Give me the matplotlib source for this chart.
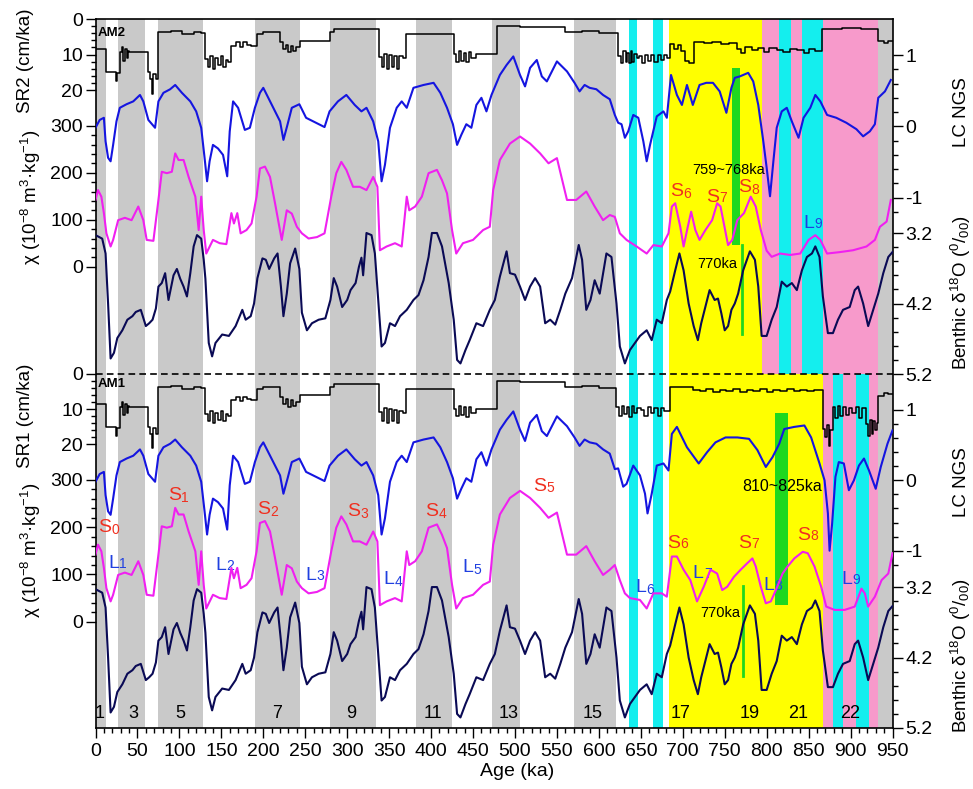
import matplotlib
matplotlib.use('Agg')
import matplotlib.pyplot as plt
import numpy as np

plt.rcParams['font.family'] = ['Liberation Sans', 'DejaVu Sans']
plt.rcParams['mathtext.fontset'] = 'custom'
plt.rcParams['mathtext.rm'] = 'Liberation Sans'
plt.rcParams['mathtext.it'] = 'Liberation Sans:italic'
plt.rcParams['axes.unicode_minus'] = False

# ---------------- data ----------------

# benthic d18O stack, same in both panels
benthic_age = [0, 8, 12, 15, 18, 22, 26, 32, 38, 44, 48, 54, 60, 64, 68, 72, 75, 79, 83, 87,
               93, 97, 101, 105, 109, 113, 117, 121, 126, 129, 131, 135, 139, 143, 151, 159, 167, 175, 179, 185,
               189, 193, 199, 203, 207, 213, 217, 221, 224, 228, 232, 238, 243, 246, 252, 258, 266, 274, 280, 284,
               288, 294, 300, 304, 310, 314, 317, 319, 323, 329, 333, 337, 341, 345, 351, 357, 363, 371, 379, 385,
               391, 397, 401, 407, 413, 421, 427, 431, 435, 441, 446, 454, 462, 470, 476, 482, 490, 494, 500, 506,
               512, 518, 524, 530, 536, 542, 548, 554, 560, 568, 576, 580, 585, 590, 595, 601, 609, 615, 621, 625,
               631, 637, 643, 649, 657, 663, 669, 675, 681, 685, 691, 696, 701, 707, 713, 718, 722, 728, 732, 738,
               742, 746, 750, 754, 758, 762, 766, 772, 780, 786, 790, 794, 800, 806, 812, 818, 824, 830, 836, 842,
               848, 854, 858, 863, 867, 873, 879, 885, 891, 899, 905, 909, 915, 921, 927, 933, 939, 945, 950]
benthic = [3.23, 3.28, 3.49, 4.20, 4.98, 4.90, 4.69, 4.58, 4.43, 4.38, 4.32, 4.29, 4.52, 4.48, 4.43, 4.27, 3.96, 3.91, 3.77, 4.15,
           3.80, 3.71, 3.85, 3.96, 4.10, 3.77, 3.39, 3.23, 3.28, 3.58, 3.85, 4.76, 4.95, 4.76, 4.64, 4.66, 4.52, 4.29, 4.43, 4.38,
           4.20, 3.84, 3.56, 3.58, 3.71, 3.56, 3.49, 3.96, 4.38, 4.06, 3.63, 3.42, 3.71, 4.33, 4.58, 4.48, 4.43, 4.41, 4.15, 3.84,
           3.96, 4.25, 4.15, 4.01, 3.91, 3.68, 3.55, 3.80, 3.20, 3.23, 3.49, 4.15, 4.81, 4.76, 4.48, 4.52, 4.38, 4.29, 4.15, 4.08,
           3.87, 3.54, 3.20, 3.20, 3.39, 3.91, 4.43, 5.00, 5.05, 4.86, 4.72, 4.48, 4.52, 4.29, 4.15, 3.82, 3.46, 3.77, 3.79, 3.96,
           4.15, 3.96, 3.84, 3.96, 4.48, 4.43, 4.50, 4.29, 4.06, 3.84, 3.37, 3.58, 4.29, 4.15, 3.87, 4.06, 3.49, 3.54, 4.20, 4.81,
           5.05, 4.86, 4.76, 4.66, 4.58, 4.72, 4.43, 4.48, 4.15, 4.03, 3.73, 3.49, 3.73, 4.20, 4.52, 4.72, 4.48, 4.20, 4.01, 4.15,
           4.13, 4.34, 4.58, 4.52, 4.29, 4.20, 4.06, 3.73, 3.46, 3.58, 3.96, 4.66, 4.66, 4.43, 4.25, 3.89, 3.96, 3.91, 4.01, 3.73,
           3.54, 3.49, 3.39, 3.54, 4.10, 4.62, 4.62, 4.43, 4.29, 4.25, 4.01, 3.96, 4.20, 4.52, 4.29, 4.06, 3.77, 3.54, 3.47]

# LC NGS, common part (0-613 ka) and the two time-scale tails
lc_age = [0, 5, 10, 12, 15, 18, 21, 25, 29, 37, 45, 53, 57, 63, 71, 75, 81, 89, 95, 103,
          113, 120, 126, 130, 133, 136, 140, 146, 152, 157, 160, 164, 170, 178, 184, 190, 196, 200, 206, 214,
          220, 224, 229, 234, 243, 251, 263, 273, 279, 289, 299, 309, 317, 323, 331, 337, 341, 345, 351, 359,
          365, 371, 379, 391, 403, 411, 419, 426, 431, 436, 442, 448, 454, 460, 466, 472, 482, 490, 498, 506,
          512, 518, 526, 532, 538, 550, 562, 571, 577, 583, 589, 597, 605, 613]
lc = [-0.02, 0.09, 0.12, -0.21, -0.44, -0.49, -0.26, 0.07, 0.26, 0.31, 0.35, 0.44, 0.35, 0.09, -0.02, 0.35, 0.47, 0.52, 0.58, 0.47,
      0.35, 0.21, -0.02, -0.44, -0.77, -0.49, -0.26, -0.31, -0.40, -0.70, -0.07, 0.35, 0.26, -0.05, -0.02, 0.26, 0.47, 0.54, 0.40, 0.21,
      0.07, -0.19, 0.03, 0.26, 0.31, 0.12, 0.05, -0.01, 0.21, 0.35, 0.44, 0.30, 0.21, 0.26, 0.07, -0.21, -0.77, -0.54, -0.02, 0.26,
      0.35, 0.26, 0.54, 0.58, 0.61, 0.47, 0.26, 0.03, -0.26, -0.12, 0.03, -0.02, 0.30, 0.40, 0.21, 0.44, 0.72, 0.86, 0.98, 0.72,
      0.56, 0.82, 0.93, 0.70, 0.63, 0.91, 0.77, 0.61, 0.49, 0.58, 0.54, 0.52, 0.44, 0.38]
lc2_tail_age = [619, 623, 627, 631, 635, 641, 647, 653, 657, 661, 669, 677, 681, 686, 693, 699, 705, 712, 720, 728,
                736, 744, 752, 758, 762, 768, 778, 784, 790, 796, 800, 804, 808, 812, 818, 824, 830, 838, 844, 852,
                858, 864, 872, 883, 895, 907, 915, 923, 929, 933, 941, 948]
lc2_tail = [0.16, 0.05, 0.03, -0.16, -0.07, 0.16, 0.12, -0.21, -0.49, -0.26, 0.14, 0.21, 0.12, 0.72, 0.44, 0.30, 0.58, 0.30, 0.58, 0.61,
            0.61, 0.49, 0.19, 0.54, 0.68, 0.70, 0.75, 0.63, 0.30, -0.21, -0.58, -0.98, -0.49, -0.02, 0.21, 0.26, 0.07, -0.16, 0.12, 0.26,
            0.44, 0.35, 0.16, 0.12, 0.05, -0.04, -0.14, -0.07, 0.03, 0.40, 0.49, 0.65]
lc1_tail_age = [619, 623, 629, 633, 641, 649, 655, 658, 663, 669, 677, 683, 687, 693, 705, 719, 729, 739, 751, 765,
                779, 789, 799, 807, 815, 821, 833, 845, 853, 863, 869, 873, 875, 878, 882, 886, 892, 898, 904, 910,
                916, 922, 930, 936, 944, 950]
lc1_tail = [0.16, 0.17, -0.09, -0.05, 0.21, 0.07, -0.19, -0.47, -0.19, 0.21, 0.24, 0.14, 0.66, 0.76, 0.47, 0.24, 0.40, 0.54, 0.61, 0.61,
            0.59, 0.43, 0.19, 0.33, 0.52, 0.73, 0.76, 0.78, 0.61, 0.24, 0.0, -0.47, -1.0, -0.62, 0.05, 0.26, 0.24, -0.14, 0.0, 0.21,
            0.31, 0.14, -0.12, 0.19, 0.52, 0.71]

# magnetic susceptibility chi (10^-8 m3/kg)
chi_age = [0, 3, 7, 10, 13, 18, 21, 27, 35, 43, 51, 57, 61, 69, 75, 79, 85, 91, 95, 99,
           105, 111, 119, 123, 126, 129, 132, 140, 148, 156, 162, 165, 169, 173, 180, 186, 192, 196, 202, 208,
           214, 222, 228, 234, 240, 246, 254, 264, 273, 281, 287, 293, 299, 307, 315, 323, 331, 336, 339, 347,
           357, 365, 371, 374, 381, 389, 397, 407, 413, 419, 425, 430, 438, 450, 462, 470, 474, 482, 494, 506,
           518, 530, 540, 550, 562, 573, 585, 595, 605, 613]
chi = [142, 163, 149, 114, 71, 43, 57, 99, 104, 99, 128, 99, 57, 55, 142, 202, 199, 202, 241, 227,
       227, 191, 149, 78, 149, 78, 28, 57, 50, 48, 114, 92, 114, 71, 78, 92, 149, 209, 213, 191,
       135, 57, 120, 113, 85, 71, 60, 63, 71, 149, 199, 223, 206, 170, 170, 163, 191, 170, 35, 43,
       50, 43, 149, 120, 128, 149, 199, 206, 184, 156, 78, 28, 50, 57, 78, 85, 163, 227, 262, 277,
       262, 241, 220, 231, 142, 142, 160, 128, 99, 110]
chi2_tail_age = [619, 625, 633, 645, 657, 665, 675, 683, 687, 691, 697, 701, 706, 710, 715, 720, 727, 735, 741, 745,
                 749, 754, 759, 765, 773, 781, 787, 793, 800, 806, 816, 828, 840, 850, 858, 864, 872, 887, 903, 919,
                 929, 935, 943, 948]
chi2_tail = [106, 71, 57, 43, 28, 46, 43, 71, 128, 135, 85, 43, 85, 117, 78, 57, 78, 99, 135, 128,
             92, 46, 57, 99, 114, 149, 128, 78, 34, 21, 28, 25, 28, 57, 67, 57, 28, 31, 35, 43,
             57, 85, 96, 142]
chi1_tail_age = [619, 625, 631, 637, 649, 657, 665, 675, 681, 687, 693, 701, 709, 717, 725, 733, 741, 747, 753, 761,
                 769, 777, 783, 787, 793, 799, 805, 811, 819, 825, 833, 843, 849, 857, 865, 871, 881, 893, 905, 913,
                 917, 921, 929, 937, 945, 950]
chi1_tail = [120, 88, 60, 50, 46, 28, 60, 60, 53, 138, 138, 110, 88, 43, 74, 110, 102, 67, 74, 95,
             110, 124, 134, 117, 74, 39, 43, 67, 102, 117, 134, 148, 145, 117, 74, 32, 25, 25, 32, 70,
             60, 32, 53, 88, 102, 145]

# sedimentation rate (cm/ka), step curves
sr_age = [0, 13, 24, 26, 29, 31, 33, 35, 37, 39, 40, 62, 65, 67, 69, 72, 75, 90, 103, 118,
          126, 131, 134, 137, 140, 143, 146, 149, 152, 155, 158, 162, 168, 172, 176, 180, 185, 192, 200, 217,
          220, 224, 227, 230, 233, 236, 239, 244, 280, 284, 338, 341, 344, 347, 350, 353, 356, 359, 362, 367,
          370, 427, 430, 433, 436, 439, 442, 445, 448, 453, 478, 506, 560, 580, 600]
sr = [8.5, 15.0, 17.5, 15.3, 9.4, 8.0, 11.7, 8.5, 11.0, 9.0, 9.4, 15.0, 17.0, 21.0, 15.5, 17.0, 3.8, 3.4, 4.2, 3.6,
      3.9, 11.3, 13.5, 10.5, 14.0, 11.0, 13.0, 10.5, 13.5, 11.5, 12.0, 7.5, 6.6, 7.8, 6.5, 7.2, 7.5, 4.2, 3.8, 3.8,
      6.6, 8.5, 7.2, 9.4, 7.5, 9.0, 8.0, 6.1, 3.8, 2.8, 10.8, 13.5, 9.8, 14.0, 10.0, 13.5, 10.3, 14.0, 10.5, 11.0,
      4.2, 9.9, 12.0, 9.0, 11.8, 9.5, 12.2, 9.3, 11.0, 9.9, 1.9, 2.3, 3.8, 3.5, 4.0]
sr2_tail_age = [623, 626, 629, 632, 634, 636, 638, 640, 642, 645, 648, 652, 655, 659, 662, 666, 670, 674, 678, 681,
                685, 690, 694, 698, 703, 708, 713, 725, 735, 745, 755, 765, 770, 774, 782, 790, 797, 803, 812, 820,
                828, 836, 844, 850, 858, 866, 890, 912, 933, 940, 945, 950]
sr2_tail = [10.3, 12.5, 9.0, 12.0, 9.5, 12.5, 9.0, 12.0, 9.8, 11.0, 10.3, 12.3, 10.0, 11.7, 10.2, 12.0, 10.0, 11.5, 10.1, 11.0,
            7.0, 8.5, 7.3, 9.0, 11.7, 12.5, 6.6, 6.9, 6.6, 7.1, 6.8, 8.4, 9.5, 8.0, 8.6, 8.2, 9.4, 8.3, 8.6, 9.3,
            8.4, 8.7, 9.5, 8.5, 8.9, 2.8, 2.6, 2.9, 6.1, 6.8, 6.2, 6.2]
sr1_tail_age = [621, 624, 627, 630, 633, 636, 639, 642, 646, 650, 654, 658, 662, 666, 670, 674, 678, 685, 700, 712,
                720, 728, 736, 744, 752, 760, 768, 776, 784, 792, 800, 808, 816, 824, 832, 840, 848, 856, 867, 870,
                872, 874, 876, 879, 882, 885, 888, 891, 894, 898, 902, 906, 910, 914, 919, 921, 923, 925, 927, 929,
                931, 933, 940, 945, 950]
sr1_tail = [9.5, 12.0, 9.0, 11.5, 9.5, 12.3, 9.2, 11.0, 9.6, 10.2, 12.0, 9.4, 11.0, 9.6, 12.0, 9.8, 10.6, 3.8, 3.6, 4.6,
            4.9, 4.3, 5.1, 4.5, 4.8, 4.4, 5.0, 4.5, 4.8, 4.4, 5.1, 4.6, 4.9, 4.4, 4.9, 4.5, 4.9, 4.6, 15.6, 18.0,
            14.5, 20.4, 16.0, 9.5, 12.5, 9.0, 12.0, 9.4, 11.8, 9.6, 11.0, 9.5, 12.4, 9.8, 14.2, 17.5, 13.0, 17.0, 13.5, 16.0,
            14.0, 6.2, 5.4, 5.8, 5.8]

# shaded intervals (ka)
gray_bands = [(0, 12), (27, 59), (74, 128.5), (190, 243.5), (280, 334), (381.5, 424.5),
              (473, 506), (570, 621), (933, 950)]
cyan_am2 = [(636, 646), (665, 676), (815, 829), (842, 867)]
yellow_am2 = [(683.6, 794)]
pink_am2 = [(794, 815), (829, 842), (867, 933)]
cyan_am1 = [(636, 647), (664, 676), (879, 890.6), (907, 921.6)]
yellow_am1 = [(684, 867)]
pink_am1 = [(867, 879), (890.6, 907), (921.6, 933)]
green_am2 = (759, 768)
green_am1 = (810, 826)
bm_age = 770

mis_labels = ['1', '3', '5', '7', '9', '11', '13', '15', '17', '19', '21', '22']
mis_age = [5, 45, 101, 216, 305, 402, 492, 593, 697, 780, 837, 900]

# ---------------- layout (pixels of the 973x789 picture) ----------------
W, H = 973, 789
X0, X1, Y0, Y1 = 95.5, 892.5, 19, 728
DASH = 374

GRAY = '#c9c9c9'
CYAN = '#14eeee'
YELLOW = '#ffff00'
PINK = '#f79acb'
GREEN = '#1fd81f'
BLUE = '#1515e0'
MAGENTA = '#f020f0'
NAVY = '#0a0a55'
RED = '#f03020'
LBLUE = '#2040e0'


def fy(py):
    # pixel row -> axes fraction
    return (Y1 - py) / (Y1 - Y0)


fig = plt.figure(figsize=(W / 100, H / 100), dpi=100)
ax = fig.add_axes([X0 / W, 1 - Y1 / H, (X1 - X0) / W, (Y1 - Y0) / H])
ax.set_xlim(0, 950)
ax.set_ylim(0, 1)
ax.set_yticks([])
ax.set_xticks(np.arange(0, 951, 50))
ax.set_xticks(np.arange(0, 951, 10), minor=True)
ax.tick_params(axis='x', which='major', direction='out', length=7, width=1, labelsize=14)
ax.tick_params(axis='x', which='minor', direction='out', length=3.5, width=1)
for s in ax.spines.values():
    s.set_linewidth(1.2)


def track(va, pa, vb, pb, side, major, minor, labels=None):
    t = ax.twinx()
    k = (vb - va) / (pb - pa)
    t.set_ylim(va + k * (Y1 - pa), va + k * (Y0 - pa))
    for s in t.spines.values():
        s.set_visible(False)
    if side == 'left':
        t.yaxis.tick_left()
    else:
        t.yaxis.tick_right()
    t.set_yticks(major)
    if labels is not None:
        t.set_yticklabels(labels)
    t.set_yticks(minor, minor=True)
    t.tick_params(axis='y', which='major', direction='out', length=7, width=1, labelsize=14, pad=2)
    t.tick_params(axis='y', which='minor', direction='out', length=3.5, width=1)
    return t


# shading: upper panel AM2, lower panel AM1
split = fy(DASH)
for a, b in gray_bands:
    ax.axvspan(a, b, ymin=split, ymax=1, color=GRAY, lw=0, zorder=0)
    ax.axvspan(a, b, ymin=0, ymax=split, color=GRAY, lw=0, zorder=0)
for bands, col in [(cyan_am2, CYAN), (yellow_am2, YELLOW), (pink_am2, PINK)]:
    for a, b in bands:
        ax.axvspan(a, b, ymin=split, ymax=1, color=col, lw=0, zorder=0)
for bands, col in [(cyan_am1, CYAN), (yellow_am1, YELLOW), (pink_am1, PINK)]:
    for a, b in bands:
        ax.axvspan(a, b, ymin=0, ymax=split, color=col, lw=0, zorder=0)

ax.axvspan(green_am2[0], green_am2[1], ymin=fy(245), ymax=fy(68), color=GREEN, lw=0, zorder=1)
ax.axvspan(green_am1[0], green_am1[1], ymin=fy(605), ymax=fy(413), color=GREEN, lw=0, zorder=1)
ax.axvline(bm_age + 1, ymin=fy(334), ymax=fy(245), color=GREEN, lw=2, zorder=1)
ax.axvline(bm_age + 2, ymin=fy(676), ymax=fy(586), color=GREEN, lw=2, zorder=1)
ax.axhline(split, color='k', ls=(0, (4, 2.5)), lw=1.2, zorder=3)

sr_minor = [2, 4, 6, 8, 12, 14, 16, 18]
chi_minor = [v for v in range(20, 300, 20) if v % 100]
lc_minor = [-1.2, -0.8, -0.6, -0.4, -0.2, 0.2, 0.4, 0.6, 0.8]
d18_minor = [3.4, 3.6, 3.8, 4.0, 4.4, 4.6, 4.8, 5.0]

# upper panel tracks (AM2)
t_sr2 = track(0, 19, 20, 90, 'left', [0, 10, 20], sr_minor)
t_chi2 = track(0, 266.7, 300, 125.7, 'left', [0, 100, 200, 300], chi_minor)
t_lc2 = track(1, 55, -1, 197.7, 'right', [-1, 0, 1], lc_minor, ['-1', '0', '1'])
t_d2 = track(3.2, 233, 5.2, 374, 'right', [3.2, 4.2, 5.2], d18_minor)
# lower panel tracks (AM1)
t_sr1 = track(0, 374, 20, 444.3, 'left', [0, 10, 20], sr_minor)
t_chi1 = track(0, 621.7, 300, 480, 'left', [0, 100, 200, 300], chi_minor)
t_lc1 = track(1, 410, -1, 550.7, 'right', [-1, 0, 1], lc_minor, ['-1', '0', '1'])
t_d1 = track(3.2, 587.3, 5.2, 728.3, 'right', [3.2, 4.2, 5.2], d18_minor)

t_sr2.plot(sr_age + sr2_tail_age, sr + sr2_tail, drawstyle='steps-post', color='k', lw=1.1)
t_sr1.plot(sr_age + sr1_tail_age, sr + sr1_tail, drawstyle='steps-post', color='k', lw=1.1)
t_lc2.plot(lc_age + lc2_tail_age, lc + lc2_tail, color=BLUE, lw=1.5)
t_lc1.plot(lc_age + lc1_tail_age, lc + lc1_tail, color=BLUE, lw=1.5)
t_chi2.plot(chi_age + chi2_tail_age, chi + chi2_tail, color=MAGENTA, lw=1.5)
t_chi1.plot(chi_age + chi1_tail_age, chi + chi1_tail, color=MAGENTA, lw=1.5)
t_d2.plot(benthic_age, benthic, color=NAVY, lw=1.5)
t_d1.plot(benthic_age, benthic, color=NAVY, lw=1.5)

# panel names
ax.text(3, fy(33), 'AM2', fontsize=9.5, fontweight='bold', va='center', zorder=4)
ax.text(3, fy(384), 'AM1', fontsize=9.5, fontweight='bold', va='center', zorder=4)


def horizon(x, py, letter, num, color):
    t = ax.text(x, fy(py), letter, color=color, fontsize=14, ha='left', va='center', zorder=4)
    ax.annotate(num, xy=(1, 0), xycoords=t, xytext=(0.3, 0), textcoords='offset points',
                fontsize=10, color=color, ha='left', va='bottom', zorder=4)


# soil / loess labels
for x, py, s, n in [(684.7, 192, 'S', '6'), (727.7, 197, 'S', '7'), (765.8, 188, 'S', '8')]:
    horizon(x, py, s, n, RED)
horizon(843.3, 223, 'L', '9', LBLUE)

lower_s = [(3, 528, '0'), (86.4, 496, '1'), (192.5, 510, '2'), (299.8, 512, '3'), (392.7, 512, '4'),
           (521.5, 487, '5'), (681, 543, '6'), (765.7, 543, '7'), (836, 535, '8')]
lower_l = [(15, 563, '1'), (142.4, 565, '2'), (249.7, 575, '3'), (342.7, 580, '4'), (436.8, 568, '5'),
           (643, 588, '6'), (712, 573, '7'), (795.6, 585, '8'), (888.6, 579, '9')]
for x, py, n in lower_s:
    horizon(x, py, 'S', n, RED)
for x, py, n in lower_l:
    horizon(x, py, 'L', n, LBLUE)

ax.text(711, fy(170), '759~768ka', fontsize=10.5, va='center', zorder=4)
ax.text(717, fy(264), '770ka', fontsize=10.5, va='center', zorder=4)
ax.text(770.6, fy(487), '810~825ka', fontsize=11.5, va='center', zorder=4)
ax.text(720.5, fy(613), '770ka', fontsize=10.5, va='center', zorder=4)

for s, a in zip(mis_labels, mis_age):
    ax.text(a, fy(713), s, fontsize=13, ha='center', va='center', zorder=4)


def fig_label(px, py, s, rot=90, size=13.5):
    fig.text(px / W, 1 - py / H, s, rotation=rot, ha='center', va='center', fontsize=size)


chi_lab = r'χ (10$^{\mathregular{-8}}$ m$^{\mathregular{3}}$·kg$^{\mathregular{-1}}$)'
d18_lab = r'Benthic δ$^{\mathregular{18}}$O ($^{\mathregular{0}}$/$_{\mathregular{00}}$)'
fig_label(25, 61, 'SR2 (cm/ka)')
fig_label(31, 197, chi_lab)
fig_label(25, 416, 'SR1 (cm/ka)')
fig_label(31, 550, chi_lab)
fig_label(961, 112, 'LC NGS')
fig_label(961, 292, d18_lab)
fig_label(961, 482, 'LC NGS')
fig_label(961, 655, d18_lab)
fig_label(517, 772, 'Age (ka)', rot=0, size=14)

plt.savefig('out.png', dpi=100)
